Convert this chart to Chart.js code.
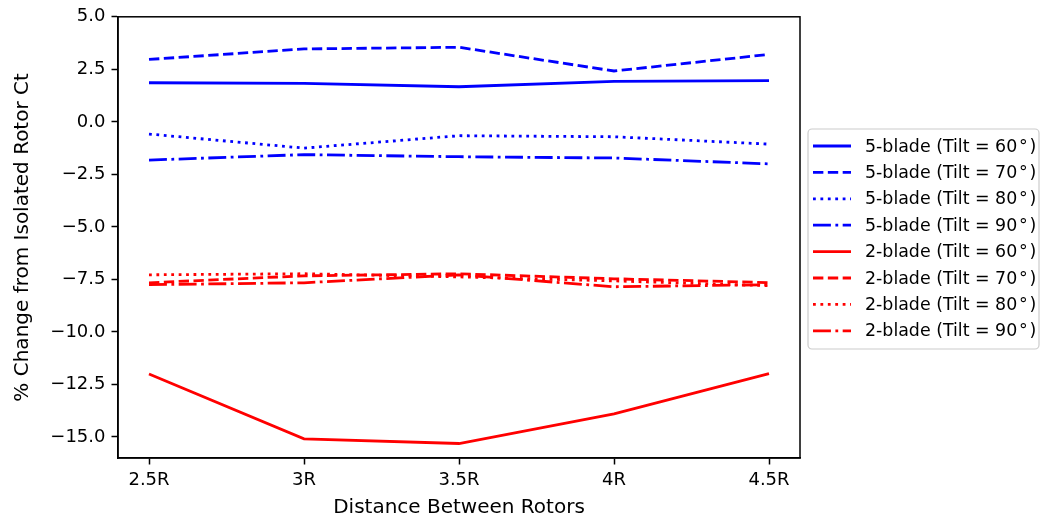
<!DOCTYPE html>
<html>
<head>
<meta charset="utf-8">
<script src="https://cdn.jsdelivr.net/npm/chart.js@4/dist/chart.umd.min.js"></script>
<style>
  html, body { margin: 0; padding: 0; background: #ffffff; }
  #wrap { width: 1040px; height: 518px; }
</style>
</head>
<body>
<div id="wrap"><canvas id="c" width="1040" height="518"></canvas></div>
<script>
// ---- data ----
const categories = ['2.5R', '3R', '3.5R', '4R', '4.5R'];
const yTicks = [-15.0, -12.5, -10.0, -7.5, -5.0, -2.5, 0.0, 2.5, 5.0];

const blade5Tilt60 = [1.86, 1.83, 1.67, 1.93, 1.96];
const blade5Tilt70 = [2.97, 3.47, 3.55, 2.42, 3.21];
const blade5Tilt80 = [-0.58, -1.25, -0.66, -0.71, -1.06];
const blade5Tilt90 = [-1.82, -1.56, -1.66, -1.72, -2.00];
const blade2Tilt60 = [-12.00, -15.09, -15.31, -13.90, -11.98];
const blade2Tilt70 = [-7.66, -7.33, -7.23, -7.47, -7.65];
const blade2Tilt80 = [-7.28, -7.23, -7.38, -7.57, -7.80];
const blade2Tilt90 = [-7.75, -7.66, -7.28, -7.85, -7.75];

const seriesLabels = [
  '5-blade (Tilt = 60\u200A°\u200A)', '5-blade (Tilt = 70\u200A°\u200A)',
  '5-blade (Tilt = 80\u200A°\u200A)', '5-blade (Tilt = 90\u200A°\u200A)',
  '2-blade (Tilt = 60\u200A°\u200A)', '2-blade (Tilt = 70\u200A°\u200A)',
  '2-blade (Tilt = 80\u200A°\u200A)', '2-blade (Tilt = 90\u200A°\u200A)'
];
const seriesValues = [blade5Tilt60, blade5Tilt70, blade5Tilt80, blade5Tilt90,
                      blade2Tilt60, blade2Tilt70, blade2Tilt80, blade2Tilt90];

// ---- styles ----
const LW = 2.8;
const dashStyles = {
  solid: [],
  dashed: [3.7 * LW, 1.6 * LW],
  dotted: [1 * LW, 1.65 * LW],
  dashdot: [6.4 * LW, 1.6 * LW, 1 * LW, 1.6 * LW]
};
const styleOrder = ['solid', 'dashed', 'dotted', 'dashdot', 'solid', 'dashed', 'dotted', 'dashdot'];
const colorOrder = ['#0000ff', '#0000ff', '#0000ff', '#0000ff', '#ff0000', '#ff0000', '#ff0000', '#ff0000'];
const FONT = "'DejaVu Sans', sans-serif";
const FS = 18;
const TITLE_FS = 20;
const LEGEND_FS = 17.4;

const datasets = seriesValues.map((vals, i) => ({
  label: seriesLabels[i],
  data: vals.map((v, j) => ({ x: j, y: v })),
  borderColor: colorOrder[i],
  backgroundColor: colorOrder[i],
  borderWidth: LW,
  borderDash: dashStyles[styleOrder[i]],
  borderCapStyle: 'butt',
  pointRadius: 0,
  fill: false,
  tension: 0
}));

const framePlugin = {
  id: 'frame',
  afterDraw(chart) {
    const { ctx, chartArea: a } = chart;
    ctx.save();
    ctx.strokeStyle = '#000';
    ctx.lineWidth = 1.5;
    ctx.setLineDash([]);
    ctx.strokeRect(a.left, a.top, a.right - a.left, a.bottom - a.top);
    ctx.restore();
  }
};

const legendPlugin = {
  id: 'mplLegend',
  afterDraw(chart) {
    const ctx = chart.ctx;
    const bx = 808, by = 129, bw = 231, bh = 220, r = 4;
    ctx.save();
    ctx.beginPath();
    ctx.moveTo(bx + r, by);
    ctx.lineTo(bx + bw - r, by);
    ctx.arcTo(bx + bw, by, bx + bw, by + r, r);
    ctx.lineTo(bx + bw, by + bh - r);
    ctx.arcTo(bx + bw, by + bh, bx + bw - r, by + bh, r);
    ctx.lineTo(bx + r, by + bh);
    ctx.arcTo(bx, by + bh, bx, by + bh - r, r);
    ctx.lineTo(bx, by + r);
    ctx.arcTo(bx, by, bx + r, by, r);
    ctx.closePath();
    ctx.fillStyle = 'rgba(255,255,255,0.8)';
    ctx.fill();
    ctx.strokeStyle = '#cccccc';
    ctx.lineWidth = 1.2;
    ctx.stroke();
    chart.data.datasets.forEach((ds, i) => {
      const y = 146 + i * 26.4;
      ctx.beginPath();
      ctx.setLineDash(ds.borderDash);
      ctx.lineCap = 'butt';
      ctx.strokeStyle = ds.borderColor;
      ctx.lineWidth = LW;
      ctx.moveTo(813, y);
      ctx.lineTo(851, y);
      ctx.stroke();
      ctx.setLineDash([]);
      ctx.fillStyle = '#000';
      ctx.font = LEGEND_FS + 'px ' + FONT;
      ctx.textBaseline = 'middle';
      ctx.textAlign = 'left';
      ctx.fillText(ds.label, 865, y + 1);
    });
    ctx.restore();
  }
};

new Chart(document.getElementById('c'), {
  type: 'line',
  data: { datasets },
  options: {
    responsive: false,
    animation: false,
    devicePixelRatio: 1,
    layout: { padding: { left: 0, right: 240, top: 14, bottom: 0 } },
    plugins: { legend: { display: false }, tooltip: { enabled: false } },
    scales: {
      x: {
        type: 'linear',
        min: -0.2,
        max: 4.2,
        afterBuildTicks(scale) { scale.ticks = categories.map((c, i) => ({ value: i })); },
        afterFit(scale) { scale.height = 60; },
        ticks: {
          color: '#000',
          font: { family: FONT, size: FS },
          padding: 5,
          maxRotation: 0,
          autoSkip: false,
          callback: (v) => categories[v]
        },
        grid: { drawOnChartArea: false, drawTicks: true, tickLength: 6.5, tickWidth: 1.5, tickColor: '#000' },
        border: { display: true, color: '#000', width: 1.5 },
        title: {
          display: true,
          text: 'Distance Between Rotors',
          color: '#000',
          font: { family: FONT, size: TITLE_FS, lineHeight: 1.0 },
          padding: { top: 0, bottom: 0 }
        }
      },
      y: {
        type: 'linear',
        min: -16,
        max: 5,
        afterBuildTicks(scale) { scale.ticks = yTicks.map(v => ({ value: v })); },
        afterFit(scale) { scale.width = 118; },
        ticks: {
          color: '#000',
          font: { family: FONT, size: FS },
          padding: 6,
          callback: (v) => (v < 0 ? '\u2212' : '') + Math.abs(v).toFixed(1)
        },
        grid: { drawOnChartArea: false, drawTicks: true, tickLength: 6.5, tickWidth: 1.5, tickColor: '#000' },
        border: { display: true, color: '#000', width: 1.5 },
        title: {
          display: true,
          text: '% Change from Isolated Rotor Ct',
          color: '#000',
          font: { family: FONT, size: TITLE_FS, lineHeight: 1.2 },
          padding: { top: 11, bottom: 0 }
        }
      }
    }
  },
  plugins: [framePlugin, legendPlugin]
});
</script>
</body>
</html>
